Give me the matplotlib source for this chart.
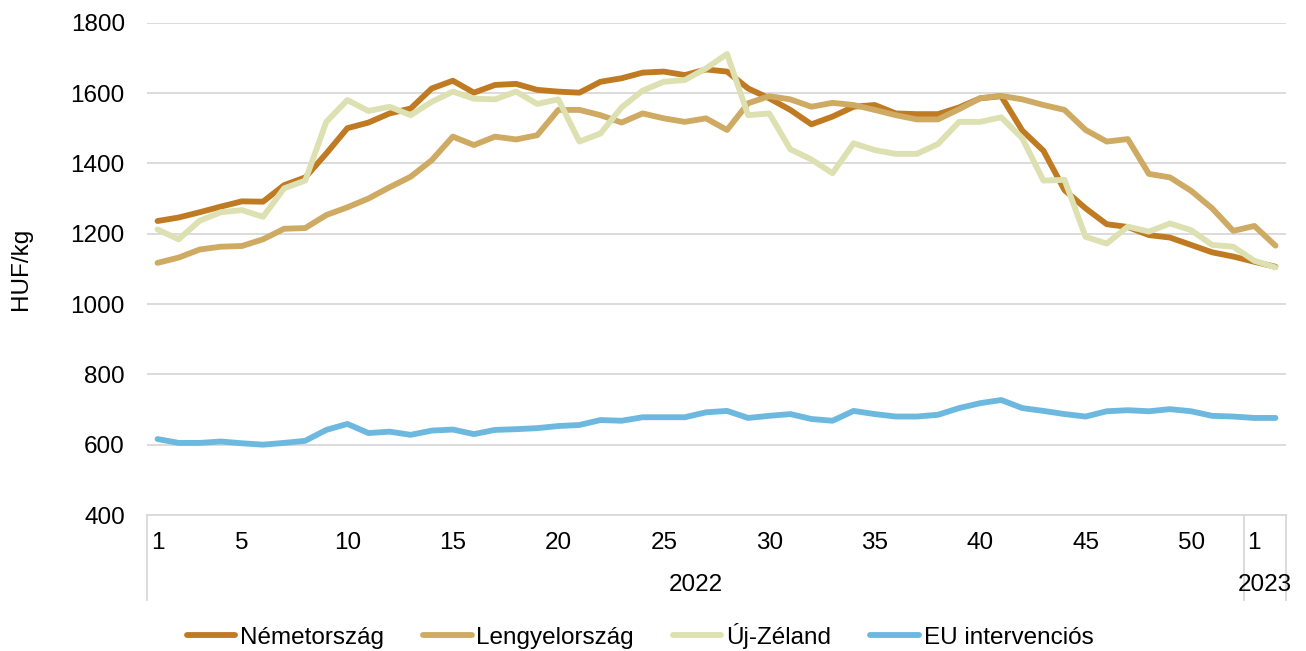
import numpy as np
import matplotlib.pyplot as plt
import matplotlib.transforms as mtransforms

plt.rcParams['font.family'] = ['Liberation Sans', 'DejaVu Sans']

# heti adatok: 2022. 1-52. hét, 2023. 1-2. hét
weeks_2022 = list(range(1, 53))
weeks_2023 = [1, 2]
shown_2022 = [1, 5, 10, 15, 20, 25, 30, 35, 40, 45, 50]
shown_2023 = [1]

nemetorszag = [1236, 1246, 1261, 1277, 1292, 1291, 1338, 1360, 1428, 1500,
               1516, 1542, 1556, 1613, 1635, 1601, 1623, 1626, 1609, 1604,
               1601, 1632, 1642, 1658, 1661, 1651, 1667, 1661, 1613, 1585,
               1552, 1511, 1533, 1561, 1566, 1542, 1540, 1540, 1559, 1585,
               1591, 1493, 1436, 1324, 1272, 1227, 1219, 1196, 1189, 1168,
               1147, 1135, 1120, 1106]
lengyelorszag = [1117, 1132, 1155, 1163, 1165, 1184, 1214, 1216, 1253, 1275,
                 1300, 1332, 1362, 1409, 1476, 1452, 1476, 1468, 1480, 1552,
                 1552, 1537, 1516, 1542, 1528, 1518, 1528, 1495, 1571, 1591,
                 1582, 1561, 1572, 1566, 1552, 1537, 1525, 1525, 1554, 1585,
                 1592, 1582, 1566, 1552, 1495, 1462, 1469, 1370, 1360, 1322,
                 1272, 1208, 1222, 1166]
uj_zeland = [1212, 1184, 1237, 1261, 1267, 1248, 1329, 1351, 1518, 1580,
             1549, 1561, 1537, 1575, 1604, 1584, 1582, 1604, 1569, 1582,
             1462, 1485, 1559, 1607, 1632, 1637, 1670, 1711, 1537, 1542,
             1440, 1411, 1372, 1457, 1438, 1427, 1427, 1455, 1518, 1518,
             1531, 1471, 1351, 1353, 1191, 1172, 1220, 1206, 1229, 1210,
             1168, 1163, 1123, 1104]
eu_intervencios = [616, 605, 605, 609, 604, 600, 605, 611, 642, 659,
                   633, 637, 628, 640, 643, 630, 642, 644, 647, 653,
                   656, 670, 668, 678, 678, 678, 692, 696, 676, 682,
                   687, 673, 668, 696, 687, 680, 680, 685, 704, 718,
                   727, 704, 696, 687, 680, 695, 698, 695, 701, 695,
                   682, 680, 676, 676]

series = [
    ('Németország', nemetorszag, '#C07A22'),
    ('Lengyelország', lengyelorszag, '#CEAA63'),
    ('Új-Zéland', uj_zeland, '#DDE0B0'),
    ('EU intervenciós', eu_intervencios, '#6DB8DE'),
]

fs = 17.5

fig = plt.figure(figsize=(13.06, 6.51), dpi=100)
ax = fig.add_axes([147 / 1306, 1 - 515 / 651, (1286 - 147) / 1306, (515 - 22.7) / 651])

x = np.arange(len(weeks_2022) + len(weeks_2023))
for name, vals, color in series:
    ax.plot(x, vals, color=color, lw=4.2, label=name, solid_capstyle='round',
            solid_joinstyle='round')

ax.set_xlim(-0.5, len(x) - 0.5)
ax.set_ylim(400, 1800)
ax.set_yticks(range(400, 1801, 200))
ax.grid(axis='y', color='#D9D9D9', lw=1.3)
ax.set_axisbelow(True)
for side in ['top', 'right', 'left']:
    ax.spines[side].set_visible(False)
ax.spines['bottom'].set_color('#D9D9D9')
ax.spines['bottom'].set_linewidth(1.3)

# tengelyfeliratok
labels = [str(w) if w in shown_2022 else '' for w in weeks_2022] + \
         [str(w) if w in shown_2023 else '' for w in weeks_2023]
ax.set_xticks(x)
ax.set_xticklabels(labels)
ax.tick_params(axis='x', length=0, pad=12, labelsize=fs)
ax.tick_params(axis='y', length=0, pad=16, labelsize=fs)

# évek és elválasztó vonalak
trans = mtransforms.blended_transform_factory(ax.transData, ax.transAxes)
n22 = len(weeks_2022)
for xv in [-0.5, n22 - 0.5, len(x) - 0.5]:
    ax.plot([xv, xv], [0, -0.173], transform=trans, color='#D9D9D9', lw=1.3,
            clip_on=False)
ax.text((n22 - 1) / 2, -0.142, '2022', transform=trans, ha='center', va='center',
        fontsize=fs)
ax.text(n22 + (len(weeks_2023) - 1) / 2, -0.142, '2023', transform=trans,
        ha='center', va='center', fontsize=fs)

fig.text(21 / 1306, 1 - 269 / 651, 'HUF/kg', rotation=90, ha='center',
         va='center', fontsize=fs)

fig.legend(loc='center', bbox_to_anchor=(640 / 1306, 1 - 636 / 651), ncol=4,
           frameon=False, fontsize=fs, handlelength=2.0, handletextpad=0.2,
           columnspacing=1.6)

fig.savefig('out.png', dpi=100)
